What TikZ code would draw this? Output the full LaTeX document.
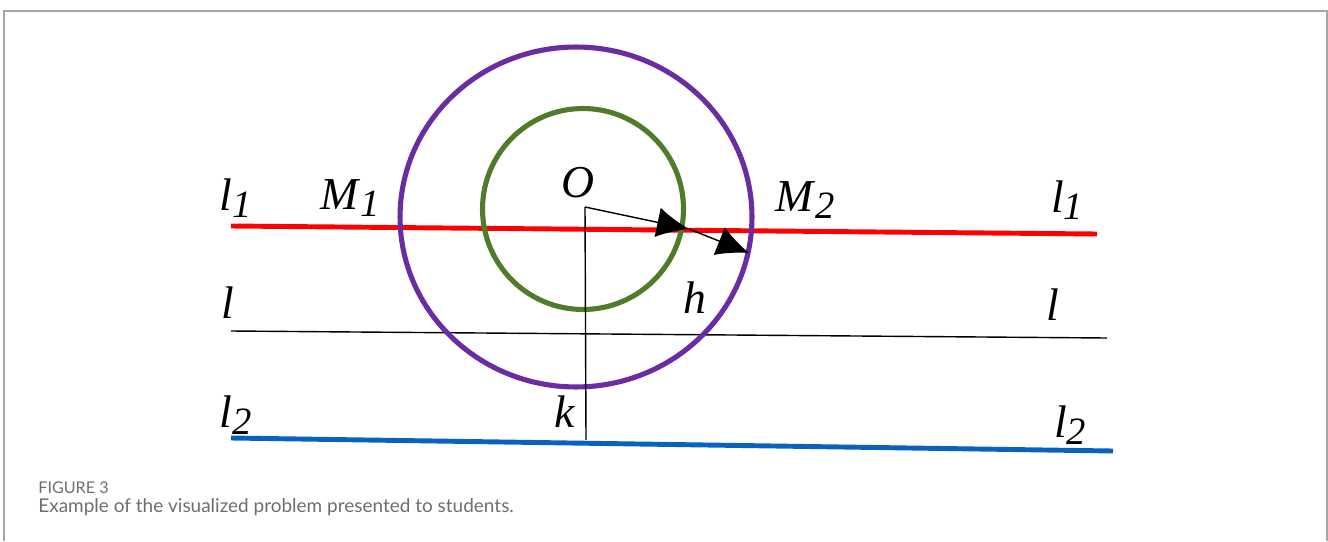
\documentclass[tikz,border=0pt]{standalone}
\usepackage{fontspec}
\setmainfont{Liberation Serif}
\newfontfamily\capfont{Lato}
\usepackage{xcolor}
\usetikzlibrary{positioning,arrows.meta,calc}
\definecolor{lineRed}{HTML}{FF0000}
\definecolor{ringPurple}{HTML}{6A2CA0}
\definecolor{ringGreen}{HTML}{4F7B2B}
\definecolor{lineBlue}{HTML}{0A62C0}
\definecolor{capGray}{HTML}{6E6E6E}
\newcommand{\lbl}[2]{\textit{#1}\raisebox{-0.32ex}{\fontsize{22}{24}\selectfont\textit{#2}}}

\begin{document}
\begin{tikzpicture}[
    x=0.02cm, y=-0.02cm,
    font=\fontsize{26}{30}\selectfont,
    frame_line/.style={draw=gray!70, line width=0.8pt},
    thick_line/.style={line width=2.8pt},
    thin_line/.style={draw=black, line width=0.8pt},
    ring/.style={line width=2.9pt},
    vec_arrow/.style={-{Latex[length=6.4mm,width=6mm]}, draw=black, line width=0.8pt},
    lab/.style={inner sep=0pt},
    cap_head/.style={font=\capfont\fontsize{9.2}{11}\selectfont, text=capGray, anchor=west, inner sep=0pt},
    cap_text/.style={font=\capfont\fontsize{10.8}{13}\selectfont, text=capGray, anchor=west, inner sep=0pt}
]
\useasboundingbox (0,0) rectangle (1328,541);

% frame
\draw [frame_line] (4,541) -- (4,11) -- (1327,11) -- (1327,541);

% the three lines
\coordinate (redA)   at (231,226);
\coordinate (redB)   at (1097,234);
\coordinate (blackA) at (231,331);
\coordinate (blackB) at (1107,338);
\coordinate (blueA)  at (231,438);
\coordinate (blueB)  at (1113,451);
\draw [thick_line, draw=lineRed]  (redA) -- (redB);
\draw [thin_line]                 (blackA) -- (blackB);
\draw [thick_line, draw=lineBlue] (blueA) -- (blueB);

% circles
\coordinate (outerC) at (576,217);
\coordinate (innerC) at (583,209);
\draw [ring, draw=ringPurple] (outerC) ellipse (3.52cm and 3.4cm);
\draw [ring, draw=ringGreen]  (innerC) circle (2.01cm);

% center, perpendicular and radius arrows
\coordinate (center) at (585,207);
\coordinate (foot)   at (586,440);
\coordinate (midTip) at (689,229);
\coordinate (endTip) at (749,253);
\draw [thin_line] (center) -- (foot);
\draw [vec_arrow] (center) -- (midTip);
\draw [vec_arrow] (midTip) -- (endTip);

% labels
\node (l1L) [lab] at (236,198) {\lbl{l}{1}};
\node (m1)  [lab] at (350,198) {\lbl{M}{1}};
\node (o)   [lab] at (578,183) {\textit{O}};
\node (m2)  [lab] at (805,200) {\lbl{M}{2}};
\node (l1R) [lab] at (1067,200) {\lbl{l}{1}};
\node (lL)  [lab] at (228,303) {\textit{l}};
\node (h)   [lab] at (695,298) {\textit{h}};
\node (lR)  [lab] at (1053,305) {\textit{l}};
\node (l2L) [lab] at (236,415) {\lbl{l}{2}};
\node (k)   [lab] at (565,412) {\textit{k}};
\node (l2R) [lab] at (1070,425) {\lbl{l}{2}};

% caption
\node (figno)   [cap_head] at (38,488) {FIGURE 3};
\node (figtext) [cap_text] at (38,507) {Example of the visualized problem presented to students.};

\end{tikzpicture}
\end{document}
